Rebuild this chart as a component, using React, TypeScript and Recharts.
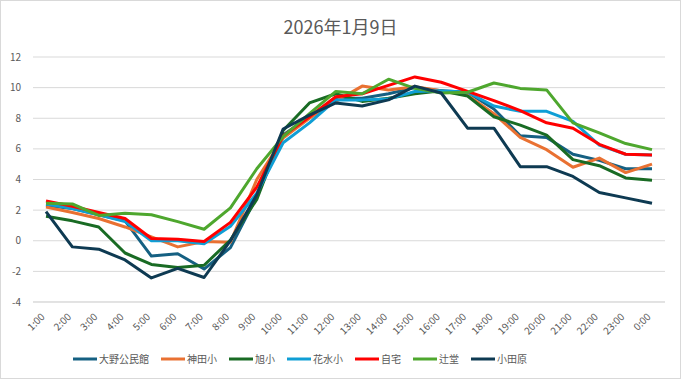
import { CartesianGrid, Legend, Line, LineChart, XAxis, YAxis } from 'recharts';

const hours = [
  '1:00', '2:00', '3:00', '4:00', '5:00', '6:00', '7:00', '8:00', '9:00', '10:00', '11:00', '12:00',
  '13:00', '14:00', '15:00', '16:00', '17:00', '18:00', '19:00', '20:00', '21:00', '22:00', '23:00', '0:00',
];

const oono = [2.3, 2.1, 1.7, 1.3, -1.0, -0.85, -1.85, -0.45, 2.9, 6.9, 8.1, 9.3, 9.3, 9.6, 10.0, 9.8, 9.7, 8.6, 6.85, 6.75, 5.65, 5.25, 4.7, 4.7];
const kanda = [2.2, 1.85, 1.45, 0.9, 0.25, -0.4, -0.05, -0.1, 4.0, 6.7, 8.0, 9.1, 10.1, 9.85, 10.05, 9.8, 9.5, 8.3, 6.75, 5.95, 4.8, 5.4, 4.45, 5.0];
const asahi = [1.6, 1.3, 0.9, -0.8, -1.55, -1.75, -1.6, 0.05, 2.7, 7.2, 9.0, 9.6, 9.1, 9.3, 9.6, 9.8, 9.45, 8.1, 7.55, 6.9, 5.3, 4.9, 4.1, 3.95];
const hanamizu = [2.4, 2.1, 1.7, 1.25, 0.0, 0.0, -0.2, 0.95, 3.1, 6.4, 7.7, 9.2, 9.2, 9.25, 9.75, 9.8, 9.7, 8.8, 8.45, 8.45, 7.8, 6.25, 5.65, 5.6];
const jitaku = [2.6, 2.25, 1.85, 1.45, 0.15, 0.1, -0.05, 1.2, 3.5, 6.85, 8.1, 9.4, 9.6, 10.15, 10.7, 10.35, 9.75, 9.15, 8.5, 7.7, 7.35, 6.3, 5.65, 5.6];
const tsujido = [2.45, 2.4, 1.65, 1.8, 1.7, 1.25, 0.75, 2.15, 4.7, 6.8, 8.3, 9.75, 9.6, 10.55, 9.95, 9.65, 9.7, 10.3, 9.95, 9.85, 7.7, 7.05, 6.35, 5.95];
const odawara = [1.9, -0.4, -0.55, -1.25, -2.43, -1.8, -2.4, 0.0, 3.0, 7.3, 8.2, 9.0, 8.8, 9.2, 10.1, 9.65, 7.35, 7.35, 4.84, 4.84, 4.2, 3.15, 2.8, 2.45];

const yTicks = [-4, -2, 0, 2, 4, 6, 8, 10, 12];

const seriesList = [
  { name: '大野公民館', values: oono, color: '#156082' },
  { name: '神田小', values: kanda, color: '#E97132' },
  { name: '旭小', values: asahi, color: '#196B24' },
  { name: '花水小', values: hanamizu, color: '#0F9ED5' },
  { name: '自宅', values: jitaku, color: '#FF0000' },
  { name: '辻堂', values: tsujido, color: '#4EA72E' },
  { name: '小田原', values: odawara, color: '#0E3A52' },
];

const data = hours.map((hour, i) => {
  const row: Record<string, string | number> = { hour };
  seriesList.forEach((s) => {
    row[s.name] = s.values[i];
  });
  return row;
});

const FONT = '"Noto Sans CJK JP", "Noto Sans", sans-serif';
const TEXT = '#595959';

const HourTick = ({ x, y, payload }: any) => (
  <g transform={`translate(${x - 3},${y + 13})`}>
    <text textAnchor="end" transform="rotate(-45)" dy="0.35em" fill={TEXT} fontSize={10} fontFamily={FONT}>
      {payload.value}
    </text>
  </g>
);

const KeyLegend = () => (
  <div style={{ display: 'flex', fontFamily: FONT, fontSize: 10, color: TEXT, lineHeight: '14px' }}>
    {seriesList.map((s) => (
      <div key={s.name} style={{ display: 'flex', alignItems: 'center', marginRight: 12 }}>
        <svg width={24} height={4} style={{ marginRight: 2 }}>
          <line x1={0} y1={2} x2={24} y2={2} stroke={s.color} strokeWidth={3} />
        </svg>
        <span>{s.name}</span>
      </div>
    ))}
  </div>
);

const App = (): React.ReactElement => (
  <div style={{ position: 'absolute', left: 0, top: 0, width: 681, height: 379, background: '#fff' }}>
    <div
      style={{
        position: 'absolute',
        left: 0,
        top: 14,
        width: 681,
        textAlign: 'center',
        fontFamily: FONT,
        fontSize: 18,
        lineHeight: '24px',
        color: TEXT,
      }}
    >
      2026年1月9日
    </div>
    <LineChart width={681} height={379} data={data} margin={{ top: 57, right: 16, bottom: 37, left: 0 }}>
      <CartesianGrid vertical={false} stroke="#d9d9d9" />
      <XAxis
        dataKey="hour"
        interval={0}
        height={40}
        padding={{ left: 13, right: 13 }}
        axisLine={{ stroke: '#d9d9d9' }}
        tickLine={false}
        tickSize={0}
        tickMargin={0}
        tick={<HourTick />}
      />
      <YAxis
        width={33}
        domain={[-4, 12]}
        ticks={yTicks}
        interval={0}
        axisLine={false}
        tickLine={false}
        tickSize={0}
        tickMargin={12}
        tick={{ fill: TEXT, fontSize: 10, fontFamily: FONT }}
      />
      <Legend
        layout="horizontal"
        verticalAlign="middle"
        align="center"
        content={<KeyLegend />}
        wrapperStyle={{ position: 'absolute', left: 73, top: 352, width: 'auto' }}
      />
      {seriesList.map((s) => (
        <Line
          key={s.name}
          type="linear"
          dataKey={s.name}
          stroke={s.color}
          strokeWidth={3}
          strokeLinejoin="round"
          dot={false}
          activeDot={false}
          isAnimationActive={false}
        />
      ))}
    </LineChart>
    <div
      style={{
        position: 'absolute',
        left: 0,
        top: 0,
        width: 681,
        height: 379,
        boxSizing: 'border-box',
        border: '1px solid #d9d9d9',
        pointerEvents: 'none',
      }}
    />
  </div>
);

export default App;
